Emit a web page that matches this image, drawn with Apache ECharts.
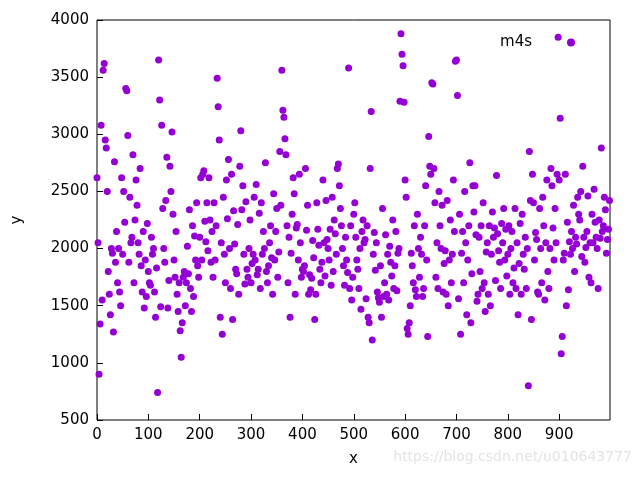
<!DOCTYPE html>
<html><head><meta charset="utf-8">
<script src="https://cdn.jsdelivr.net/npm/echarts@6/dist/echarts.min.js"></script>
<style>body{margin:0}#c{width:640px;height:480px}</style></head>
<body><div id="c"></div>
<script>
// estimated y values, one every 2 units of x
const yValues = [
2620,2050,900,1340,3080,1550,3560,3620,2950,2880,2500,1800,1600,1420,2000,1960,1270,2760,1880,2150,
1700,2000,1620,1500,2620,1950,2500,2230,3400,3380,2990,1880,2450,2050,2100,2820,1700,2250,2600,2380,
2050,1950,2700,1850,1620,2150,1480,1900,1580,2220,1800,1700,1680,2100,1950,2000,1620,1400,1830,740,
3650,3300,1490,3080,2350,2000,1880,2420,2800,1480,1720,2720,2500,3020,2300,1900,1750,2150,1600,1450,
1700,1280,1050,1350,1750,1800,1500,1700,2020,1780,2340,1650,1450,2200,1580,2110,1900,2400,1850,1750,
2100,2620,1900,2650,2680,2240,2060,2400,1980,2620,2250,1880,2150,1750,2400,1900,2200,3490,3240,2950,
1400,2050,1250,2450,1950,1700,2600,2260,2780,2000,1650,2650,1380,2330,2040,1820,1780,2210,1600,2720,
3030,2340,2550,1950,1690,2410,1820,1750,2000,2250,1700,1870,1950,2450,1900,2560,1770,1820,2310,1650,
2400,1950,2150,2000,2750,1800,1700,1850,2050,2200,1920,1600,2480,1900,2150,2350,1750,1970,2850,2380,
3560,3210,3150,2960,2820,2200,1700,2100,1400,1960,2300,2620,2480,1600,2180,2210,1900,2650,2050,1750,
1820,1800,1850,2700,2160,2380,1600,1770,1640,1740,2070,1920,1380,1600,2400,2170,2030,1820,1700,1880,
2600,2050,1760,2420,2080,2000,1900,2170,1680,2450,1800,2250,2130,1950,2700,2740,2550,2350,2200,2000,
1850,1680,2100,1900,1790,3580,1650,2200,1550,1750,2300,2400,2100,1900,1820,1650,2000,1470,2150,2250,
2050,2080,1560,2200,1400,1350,2700,3200,1200,1950,2140,1810,2050,1620,1570,1530,1850,1400,2350,1580,
1700,2120,1600,1950,1550,2020,1880,1760,2250,1650,1850,2150,1630,1960,2000,3290,3880,3700,3600,3280,
2600,2450,1300,1250,1350,1500,1960,1850,1700,2200,1640,1580,2300,2000,1750,2100,1950,1580,1650,2200,
2550,1900,1230,2980,2720,2650,3450,3440,2700,2400,1750,2050,1650,2500,2200,2000,2380,1620,1870,1980,
1600,2420,1500,1900,2250,1700,1950,2600,2150,3640,3650,3340,1560,2300,1250,1960,2150,1700,2500,2050,
1420,1900,2200,2750,1350,1780,2550,2320,2550,2120,1540,1600,2100,1800,2200,1650,2400,1700,1450,1970,
2050,1600,2200,1500,1950,2320,2100,2180,1720,2640,2130,1980,1880,1650,2220,2050,2350,1900,2170,1760,
1950,2200,1600,2000,2150,1700,1830,2350,1650,2050,1420,1870,2220,1600,2300,1950,1820,2100,1650,2000,
800,2850,2420,1380,2650,2400,1900,2140,2080,1620,1600,2350,2000,1700,2450,2200,1550,2050,2600,1800,
1650,2000,2700,2550,2180,1900,2350,2050,2650,3850,2600,3140,1080,1230,1900,1960,2650,1500,2230,1640,
2060,1950,2150,2000,2380,1800,2100,2040,2450,2300,2250,2500,1930,2720,2100,1880,2010,2150,2460,1750,
2050,1700,2300,2050,2520,2230,2100,2000,1650,2250,2090,2880,2150,2200,2450,2340,1960,2080,2170,2420
];
const xStep = 2;
const points = yValues.map((y, i) => [i * xStep, y]);

const chart = echarts.init(document.getElementById('c'));
const font = 'DejaVu Sans';
const axisCommon = {
  axisLine: {show: false},
  axisTick: {inside: true, length: 6, lineStyle: {color: '#000'}},
  splitLine: {show: false},
  axisLabel: {color: '#000', fontSize: 15, fontFamily: font, formatter: v => String(v)},
  nameTextStyle: {color: '#000', fontSize: 15, fontFamily: font}
};
chart.setOption({
  animation: false,
  grid: {left: 97, right: 30, top: 20, bottom: 60, show: true, borderColor: '#000', borderWidth: 1},
  xAxis: Object.assign({type: 'value', min: 0, max: 999, interval: 100, name: 'x',
    nameLocation: 'middle', nameGap: 32}, axisCommon,
    {axisLabel: Object.assign({}, axisCommon.axisLabel, {showMaxLabel: false})}),
  yAxis: Object.assign({type: 'value', min: 500, max: 4000, interval: 500, name: 'y',
    nameLocation: 'middle', nameGap: 72, nameRotate: 90}, axisCommon),
  legend: {right: 60, top: 30, align: 'right', itemGap: 10, itemWidth: 8, itemHeight: 8,
    textStyle: {fontSize: 15, fontFamily: font, color: '#000', padding: [0, 30, 0, 0]}},
  series: [{name: 'm4s', type: 'scatter', symbol: 'circle', symbolSize: 7,
    itemStyle: {color: '#9400d3', opacity: 1}, data: points}],
  graphic: [{type: 'text', right: 8, bottom: 16,
    style: {text: 'https://blog.csdn.net/u010643777', fill: '#e4e4e4', fontSize: 14, fontFamily: font}}]
});
</script></body></html>
